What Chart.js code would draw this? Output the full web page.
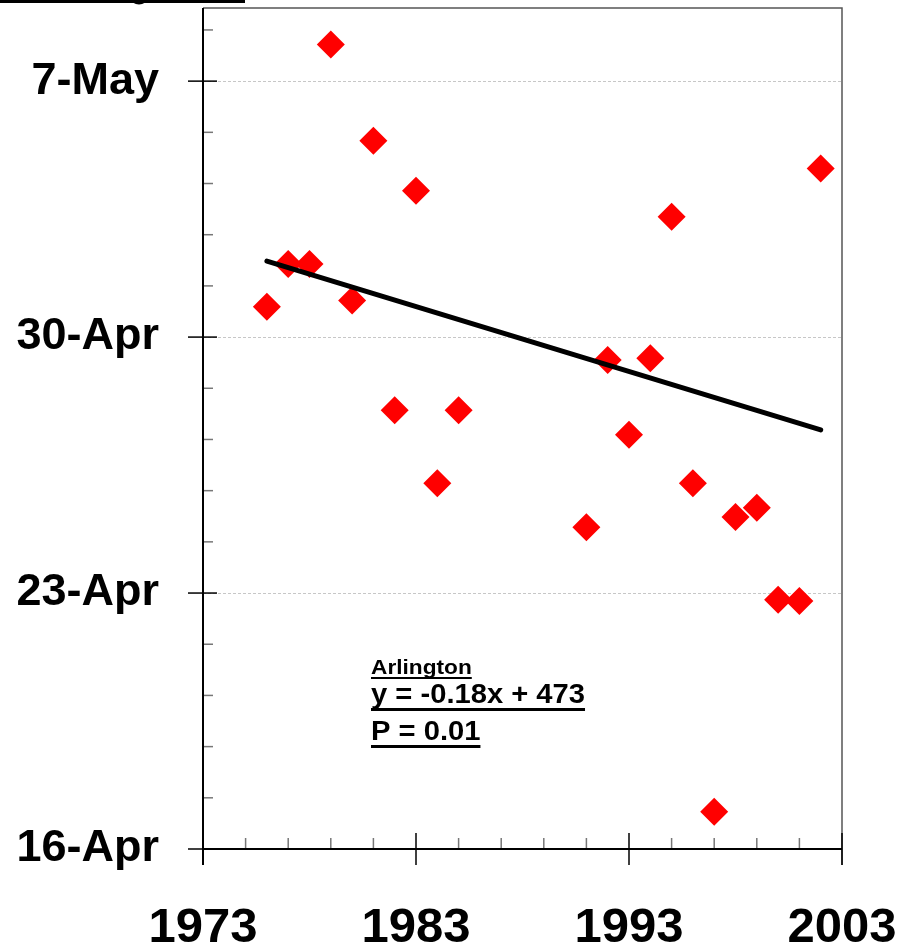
<!DOCTYPE html>
<html>
<head>
<meta charset="utf-8">
<script src="https://cdn.jsdelivr.net/npm/chart.js@4.4.1/dist/chart.umd.min.js"></script>
<style>
  body { margin: 0; background: #fff; }
  #wrap { width: 904px; height: 945px; position: relative; }
</style>
</head>
<body>
<div id="wrap"><canvas id="arlingtonChart"></canvas></div>
<script>
// observation years and first date, as day of year (16-Apr = 106)
const years = [1976, 1977, 1978, 1979, 1980, 1981, 1982, 1983, 1984, 1985,
  1991, 1992, 1993, 1994, 1995, 1996, 1997, 1998, 1999, 2000, 2001, 2002];
const firstDay = [120.83, 122.0, 122.0, 128.0, 121.0, 125.37, 118.0, 124.0, 116.0, 118.0,
  114.8, 119.37, 117.33, 119.42, 123.29, 116.0, 107.02, 115.08, 115.33, 112.82, 112.78, 124.61];

// regression line end points
const trendYears = [1976, 2002];
const trendDays = [122.08, 117.46];

// axes
const xLabelYears = [1973, 1983, 1993, 2003];
const yMajorDays = [106, 113, 120, 127];
const yTickDates = ['16-Apr', '23-Apr', '30-Apr', '7-May'];

const noteLines = ['Arlington', 'y = -0.18x + 473', 'P = 0.01'];

const FONT = '"Liberation Sans", Arial, sans-serif';

const isMajorDay = v => yMajorDays.some(d => Math.abs(d - v) < 0.01);
const isMajorYear = v => xLabelYears.includes(Math.round(v));

function underlinedText(ctx, text, x, y, size, lineY, lineW) {
  const sx = 1.08;
  ctx.font = 'bold ' + size + 'px ' + FONT;
  ctx.save();
  ctx.translate(x, y);
  ctx.scale(sx, 1);
  ctx.fillText(text, 0, 0);
  ctx.restore();
  const w = ctx.measureText(text).width * sx;
  ctx.fillRect(x, lineY, w, lineW);
}

// drop the label overhang padding so the plot area sits where the original does
function noPad(s) {
  s.paddingLeft = 0; s.paddingRight = 0; s.paddingTop = 0; s.paddingBottom = 0;
}

const frameAndTicks = {
  id: 'frameAndTicks',
  beforeDatasetsDraw(chart) {
    const { ctx, chartArea: a, scales: { x, y } } = chart;
    ctx.save();

    // dotted grid at the labelled dates
    ctx.strokeStyle = 'rgba(0,0,0,0.22)';
    ctx.lineWidth = 1;
    ctx.setLineDash([3, 2]);
    yMajorDays.slice(1).forEach(d => {
      const py = Math.round(y.getPixelForValue(d)) + 0.5;
      ctx.beginPath(); ctx.moveTo(a.left, py); ctx.lineTo(a.right, py); ctx.stroke();
    });
    ctx.setLineDash([]);

    // top and right frame
    ctx.strokeStyle = '#555';
    ctx.lineWidth = 1.5;
    ctx.beginPath();
    ctx.moveTo(a.left, a.top); ctx.lineTo(a.right, a.top); ctx.lineTo(a.right, a.bottom + 16);
    ctx.stroke();

    // y ticks
    y.ticks.forEach(t => {
      const py = y.getPixelForValue(t.value);
      const major = isMajorDay(t.value);
      ctx.strokeStyle = major ? '#000' : '#777';
      ctx.lineWidth = 1.5;
      ctx.beginPath();
      ctx.moveTo(major ? a.left - 15 : a.left, py);
      ctx.lineTo(a.left + (major ? 14 : 10), py);
      ctx.stroke();
    });

    // x ticks
    x.ticks.forEach(t => {
      const px = x.getPixelForValue(t.value);
      const major = isMajorYear(t.value);
      ctx.strokeStyle = major ? '#000' : '#777';
      ctx.lineWidth = 1.5;
      ctx.beginPath();
      ctx.moveTo(px, a.bottom - (major ? 16 : 11));
      ctx.lineTo(px, major ? a.bottom + 16 : a.bottom);
      ctx.stroke();
    });

    // axis lines
    ctx.strokeStyle = '#000';
    ctx.lineWidth = 2;
    ctx.beginPath();
    ctx.moveTo(a.left, a.top); ctx.lineTo(a.left, a.bottom + 16);
    ctx.moveTo(a.left, a.bottom); ctx.lineTo(a.right, a.bottom);
    ctx.stroke();
    ctx.restore();
  },
  afterDraw(chart) {
    const ctx = chart.ctx;
    ctx.save();
    ctx.fillStyle = '#000';
    ctx.strokeStyle = '#000';
    // remains of the cut-off title underline
    ctx.fillRect(0, 0, 245, 3);
    ctx.lineWidth = 3;
    ctx.beginPath();
    ctx.ellipse(139, -2, 7, 5, 0, 0, Math.PI);
    ctx.stroke();

    ctx.textBaseline = 'alphabetic';
    ctx.textAlign = 'left';
    underlinedText(ctx, noteLines[0], 371, 674, 21, 677, 2);
    underlinedText(ctx, noteLines[1], 371, 703, 27, 708, 3);
    underlinedText(ctx, noteLines[2], 371, 740, 27, 745, 3);
    ctx.restore();
  }
};

new Chart(document.getElementById('arlingtonChart'), {
  type: 'scatter',
  data: {
    datasets: [
      {
        type: 'line',
        data: trendYears.map((yr, i) => ({ x: yr, y: trendDays[i] })),
        borderColor: '#000',
        borderWidth: 5,
        borderCapStyle: 'round',
        pointRadius: 0,
        fill: false,
        order: 0
      },
      {
        data: years.map((yr, i) => ({ x: yr, y: firstDay[i] })),
        pointStyle: 'rectRot',
        pointRadius: 14,
        pointHoverRadius: 14,
        backgroundColor: '#ff0000',
        borderColor: '#ff0000',
        borderWidth: 0,
        order: 1
      }
    ]
  },
  options: {
    responsive: true,
    maintainAspectRatio: false,
    animation: false,
    layout: { autoPadding: false, padding: { top: 8, right: 62, left: 0, bottom: 0 } },
    plugins: { legend: { display: false }, tooltip: { enabled: false } },
    scales: {
      x: {
        type: 'linear',
        min: 1973,
        max: 2003,
        grid: { display: false, drawTicks: false },
        border: { display: false },
        afterBuildTicks: s => {
          const t = [];
          for (let v = 1973; v <= 2003; v += 2) t.push({ value: v });
          s.ticks = t;
        },
        afterFit: s => { s.height = 96; noPad(s); },
        ticks: {
          autoSkip: false,
          maxRotation: 0,
          padding: 55,
          color: '#000',
          font: { family: FONT, size: 49, weight: 'bold', lineHeight: 1 },
          callback: v => isMajorYear(v) ? String(v) : ''
        }
      },
      y: {
        type: 'linear',
        min: 106,
        max: 129,
        grid: { display: false, drawTicks: false },
        border: { display: false },
        afterBuildTicks: s => {
          const t = [];
          for (let k = 0; k <= 16; k++) t.push({ value: Math.round((106 + k * 1.4) * 10) / 10 });
          s.ticks = t;
        },
        afterFit: s => { s.width = 203; noPad(s); },
        ticks: {
          autoSkip: false,
          padding: 44,
          color: '#000',
          font: { family: FONT, size: 45, weight: 'bold', lineHeight: 1 },
          callback: v => {
            const i = yMajorDays.findIndex(d => Math.abs(d - v) < 0.01);
            return i >= 0 ? yTickDates[i] : '';
          }
        }
      }
    }
  },
  plugins: [frameAndTicks]
});
</script>
</body>
</html>
